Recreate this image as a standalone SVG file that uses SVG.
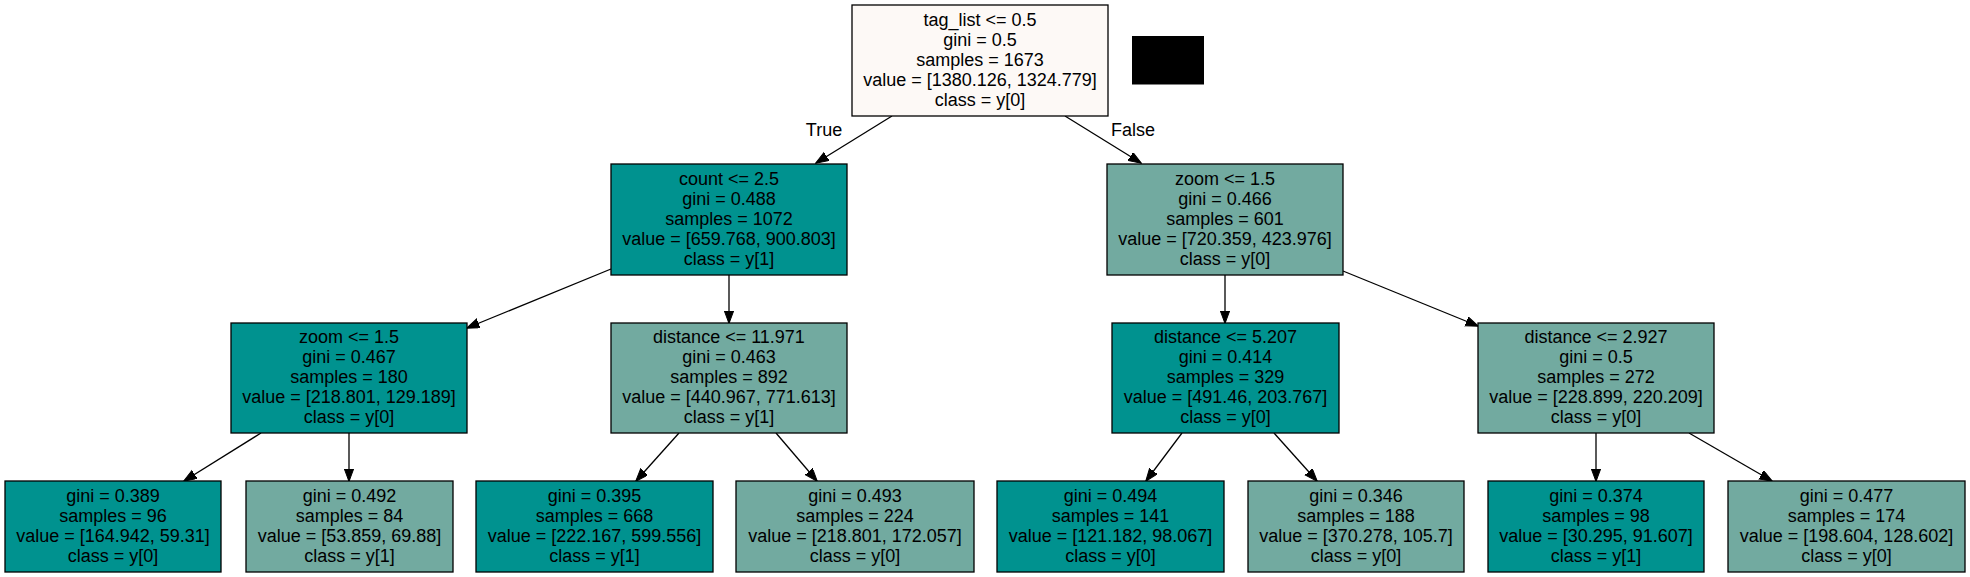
<svg xmlns="http://www.w3.org/2000/svg" width="1970" height="577" viewBox="0 0 1970 577">
<style>
.box{stroke:#000;stroke-width:1.3}
.root{fill:#fdf9f6}
.dark{fill:#00928f}
.light{fill:#72aaa0}
text{font-family:"Liberation Sans",Arial,Helvetica,sans-serif;font-size:18px;fill:#000;text-anchor:middle}
.edge{stroke:#000;stroke-width:1.3;fill:none;marker-end:url(#arr)}
</style>
<defs>
<marker id="arr" markerUnits="userSpaceOnUse" markerWidth="14" markerHeight="11" refX="12.5" refY="4.8" orient="auto">
<path d="M0,0 L13,4.8 L0,9.6 z" fill="#000" stroke="#000" stroke-width="1"/>
</marker>
</defs>
<rect width="1970" height="577" fill="#fff"/>
<g id="connectors">
<line class="edge" x1="892" y1="116" x2="816" y2="163"/>
<line class="edge" x1="1065" y1="116" x2="1141" y2="163"/>
<line class="edge" x1="611" y1="269" x2="467" y2="328"/>
<line class="edge" x1="729" y1="275" x2="729" y2="323"/>
<line class="edge" x1="1225" y1="275" x2="1225" y2="323"/>
<line class="edge" x1="1343" y1="271" x2="1478" y2="326"/>
<line class="edge" x1="261" y1="433" x2="184" y2="481"/>
<line class="edge" x1="349" y1="433" x2="349" y2="481"/>
<line class="edge" x1="679" y1="433" x2="636" y2="481"/>
<line class="edge" x1="776" y1="433" x2="817" y2="481"/>
<line class="edge" x1="1182" y1="433" x2="1146" y2="481"/>
<line class="edge" x1="1274" y1="433" x2="1317" y2="481"/>
<line class="edge" x1="1596" y1="433" x2="1596" y2="481"/>
<line class="edge" x1="1689" y1="433" x2="1772" y2="481"/>
<text x="824" y="136">True</text>
<text x="1133" y="136">False</text>
</g>
<g id="node0">
<rect class="box root" x="852" y="5" width="256" height="111"/>
<text x="980" y="26">tag_list &lt;= 0.5</text>
<text x="980" y="46">gini = 0.5</text>
<text x="980" y="66">samples = 1673</text>
<text x="980" y="86">value = [1380.126, 1324.779]</text>
<text x="980" y="106">class = y[0]</text>
</g>
<g id="redacted">
<rect x="1132" y="36" width="72" height="48.5" fill="#000"/>
</g>
<g id="node1">
<rect class="box dark" x="611" y="164" width="236" height="111"/>
<text x="729" y="185">count &lt;= 2.5</text>
<text x="729" y="205">gini = 0.488</text>
<text x="729" y="225">samples = 1072</text>
<text x="729" y="245">value = [659.768, 900.803]</text>
<text x="729" y="265">class = y[1]</text>
</g>
<g id="node8">
<rect class="box light" x="1107" y="164" width="236" height="111"/>
<text x="1225" y="185">zoom &lt;= 1.5</text>
<text x="1225" y="205">gini = 0.466</text>
<text x="1225" y="225">samples = 601</text>
<text x="1225" y="245">value = [720.359, 423.976]</text>
<text x="1225" y="265">class = y[0]</text>
</g>
<g id="node2">
<rect class="box dark" x="231" y="323" width="236" height="110"/>
<text x="349" y="343">zoom &lt;= 1.5</text>
<text x="349" y="363">gini = 0.467</text>
<text x="349" y="383">samples = 180</text>
<text x="349" y="403">value = [218.801, 129.189]</text>
<text x="349" y="423">class = y[0]</text>
</g>
<g id="node5">
<rect class="box light" x="611" y="323" width="236" height="110"/>
<text x="729" y="343">distance &lt;= 11.971</text>
<text x="729" y="363">gini = 0.463</text>
<text x="729" y="383">samples = 892</text>
<text x="729" y="403">value = [440.967, 771.613]</text>
<text x="729" y="423">class = y[1]</text>
</g>
<g id="node9">
<rect class="box dark" x="1112" y="323" width="227" height="110"/>
<text x="1225.5" y="343">distance &lt;= 5.207</text>
<text x="1225.5" y="363">gini = 0.414</text>
<text x="1225.5" y="383">samples = 329</text>
<text x="1225.5" y="403">value = [491.46, 203.767]</text>
<text x="1225.5" y="423">class = y[0]</text>
</g>
<g id="node12">
<rect class="box light" x="1478" y="323" width="236" height="110"/>
<text x="1596" y="343">distance &lt;= 2.927</text>
<text x="1596" y="363">gini = 0.5</text>
<text x="1596" y="383">samples = 272</text>
<text x="1596" y="403">value = [228.899, 220.209]</text>
<text x="1596" y="423">class = y[0]</text>
</g>
<g id="node3">
<rect class="box dark" x="5" y="481" width="216" height="91"/>
<text x="113" y="502">gini = 0.389</text>
<text x="113" y="522">samples = 96</text>
<text x="113" y="542">value = [164.942, 59.31]</text>
<text x="113" y="562">class = y[0]</text>
</g>
<g id="node4">
<rect class="box light" x="246" y="481" width="207" height="91"/>
<text x="349.5" y="502">gini = 0.492</text>
<text x="349.5" y="522">samples = 84</text>
<text x="349.5" y="542">value = [53.859, 69.88]</text>
<text x="349.5" y="562">class = y[1]</text>
</g>
<g id="node6">
<rect class="box dark" x="476" y="481" width="237" height="91"/>
<text x="594.5" y="502">gini = 0.395</text>
<text x="594.5" y="522">samples = 668</text>
<text x="594.5" y="542">value = [222.167, 599.556]</text>
<text x="594.5" y="562">class = y[1]</text>
</g>
<g id="node7">
<rect class="box light" x="736" y="481" width="238" height="91"/>
<text x="855" y="502">gini = 0.493</text>
<text x="855" y="522">samples = 224</text>
<text x="855" y="542">value = [218.801, 172.057]</text>
<text x="855" y="562">class = y[0]</text>
</g>
<g id="node10">
<rect class="box dark" x="997" y="481" width="227" height="91"/>
<text x="1110.5" y="502">gini = 0.494</text>
<text x="1110.5" y="522">samples = 141</text>
<text x="1110.5" y="542">value = [121.182, 98.067]</text>
<text x="1110.5" y="562">class = y[0]</text>
</g>
<g id="node11">
<rect class="box light" x="1248" y="481" width="216" height="91"/>
<text x="1356" y="502">gini = 0.346</text>
<text x="1356" y="522">samples = 188</text>
<text x="1356" y="542">value = [370.278, 105.7]</text>
<text x="1356" y="562">class = y[0]</text>
</g>
<g id="node13">
<rect class="box dark" x="1488" y="481" width="216" height="91"/>
<text x="1596" y="502">gini = 0.374</text>
<text x="1596" y="522">samples = 98</text>
<text x="1596" y="542">value = [30.295, 91.607]</text>
<text x="1596" y="562">class = y[1]</text>
</g>
<g id="node14">
<rect class="box light" x="1728" y="481" width="237" height="91"/>
<text x="1846.5" y="502">gini = 0.477</text>
<text x="1846.5" y="522">samples = 174</text>
<text x="1846.5" y="542">value = [198.604, 128.602]</text>
<text x="1846.5" y="562">class = y[0]</text>
</g>
</svg>
